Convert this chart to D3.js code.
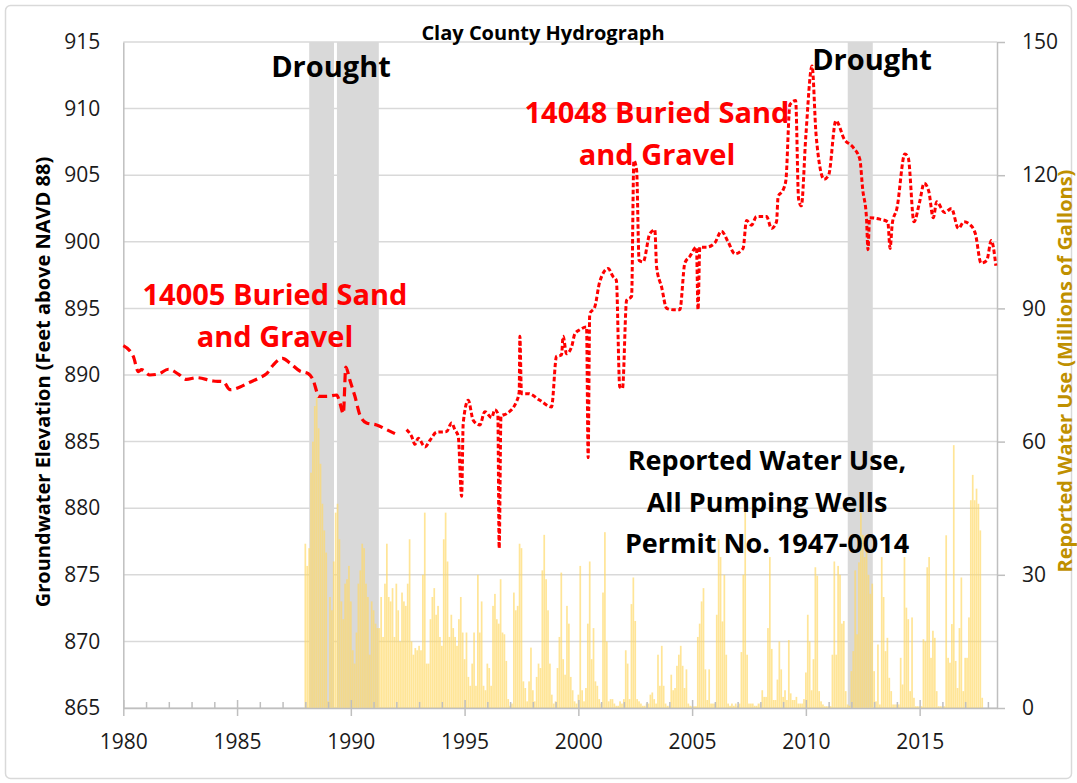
<!DOCTYPE html>
<html>
<head>
<meta charset="utf-8">
<script src="https://cdn.jsdelivr.net/npm/d3@7"></script>
<style>
  body { margin: 0; background: #fff; }
  svg text { font-family: "Open Sans", "Liberation Sans", sans-serif; }
</style>
</head>
<body>
<div id="chart"></div>
<script>
// Well 14005 (Buried Sand and Gravel), decimal year / feet above NAVD 88
const well14005Years = [1980.0, 1980.44, 1980.66, 1980.8, 1981.17, 1981.54, 1981.98, 1982.42, 1982.78, 1983.22,
  1983.95, 1984.39, 1984.69, 1985.13, 1985.49, 1986.0, 1986.3, 1986.59, 1987.0, 1987.32, 1987.76, 1988.13,
  1988.35, 1988.5, 1988.57, 1988.94, 1989.38, 1989.52, 1989.67, 1989.78, 1989.96, 1990.18, 1990.4, 1990.69,
  1991.13, 1991.57, 1991.94];
const well14005Levels = [892.2, 891.4, 890.25, 890.4, 890.0, 890.07, 890.43, 890.07, 889.67, 889.8,
  889.55, 889.5, 888.9, 889.1, 889.4, 889.8, 890.1, 890.75, 891.25, 890.9, 890.3, 890.1,
  889.6, 888.75, 888.4, 888.4, 888.5, 887.9, 887.1, 890.6, 889.6, 888.4, 887.0, 886.4,
  886.25, 885.9, 885.6];

// Well 14048 (Buried Sand and Gravel)
const well14048Years = [1992.45, 1992.67, 1992.82, 1992.96, 1993.26, 1993.48, 1993.77, 1994.21, 1994.43, 1994.57,
  1994.72, 1994.87, 1994.94, 1995.16, 1995.38, 1995.67, 1995.89, 1996.19, 1996.33, 1996.46,
  1996.52, 1996.6, 1996.85, 1997.28, 1997.4, 1997.43, 1997.5, 1997.8, 1998.31, 1998.82,
  1999.04, 1999.26, 1999.33, 1999.48, 1999.7, 1999.85, 2000.07, 2000.36, 2000.43, 2000.5,
  2000.72, 2000.94, 2001.31, 2001.52, 2001.67, 2001.82, 2001.94, 2002.12, 2002.34, 2002.44,
  2002.56, 2002.67, 2002.85, 2003.14, 2003.36, 2003.44, 2003.66, 2003.88, 2004.17, 2004.46,
  2004.68, 2004.9, 2005.19, 2005.26, 2005.34, 2005.63, 2005.99, 2006.29, 2006.58, 2006.88,
  2007.24, 2007.39, 2007.61, 2007.83, 2008.27, 2008.49, 2008.71, 2008.78, 2009.0, 2009.12,
  2009.3, 2009.55, 2009.68, 2009.8, 2010.0, 2010.27, 2010.45, 2010.8, 2011.0, 2011.32,
  2011.69, 2012.07, 2012.37, 2012.5, 2012.66, 2012.73, 2012.8, 2013.25, 2013.6, 2013.7,
  2013.8, 2014.0, 2014.35, 2014.5, 2014.75, 2015.0, 2015.2, 2015.4, 2015.6, 2015.75,
  2016.1, 2016.4, 2016.7, 2016.95, 2017.2, 2017.45, 2017.7, 2017.95, 2018.15, 2018.35];
const well14048Levels = [885.9, 885.4, 884.8, 885.25, 884.6, 885.1, 885.7, 885.75, 886.4, 885.9,
  885.4, 880.9, 886.4, 888.1, 886.6, 886.25, 887.25, 886.8, 887.4, 887.1,
  877.0, 886.9, 887.1, 888.0, 888.75, 892.9, 888.6, 888.6, 888.1, 887.6,
  891.4, 891.5, 892.9, 891.6, 892.1, 893.1, 893.4, 893.6, 883.8, 894.6,
  895.1, 897.0, 898.0, 897.4, 897.1, 889.1, 889.0, 895.6, 895.9, 906.1,
  905.4, 898.6, 898.5, 900.6, 900.9, 898.1, 896.6, 895.0, 894.9, 894.9,
  898.4, 898.9, 899.6, 894.9, 899.6, 899.6, 899.9, 900.8, 900.0, 899.1,
  899.5, 901.6, 901.25, 901.9, 901.9, 901.0, 901.5, 903.4, 903.9, 904.6,
  910.3, 910.6, 903.2, 902.7, 908.0, 913.2, 908.0, 904.7, 905.0, 909.1,
  907.7, 907.1, 906.2, 903.9, 901.9, 899.4, 901.8, 901.7, 901.5, 899.5,
  901.4, 902.5, 906.6, 906.3, 901.5, 903.0, 904.4, 903.8, 901.8, 903.0,
  902.2, 902.5, 901.0, 901.5, 901.3, 900.6, 898.4, 898.6, 900.1, 898.2];

// Reported water use, monthly from January 1988 (millions of gallons)
const useStartYear = 1988;
const waterUse = [
  37, 32, 36, 53, 60, 68, 70, 63, 55, 46, 40, 35, 1.5, 25, 22, 33, 44, 46, 38, 24,
  20, 28, 29, 32, 24, 13, 10, 17, 28, 31, 37, 36, 28, 25, 12, 24, 22, 19, 18, 18,
  25, 16, 28, 37, 25, 24, 27, 16, 28, 22, 15, 26, 24, 23, 28, 38, 15, 12, 13.5, 13,
  14, 13, 30, 44, 10, 10, 20, 25, 27, 21, 23, 16, 14, 38, 44, 33, 16, 21, 18, 16,
  14, 20, 25, 17, 11, 17, 7,
  5, 10, 17, 5, 30, 17, 24, 5, 4, 10, 9, 5, 23, 25.7, 20, 19, 29, 17, 16.6, 10.6,
  2, 0.5, 1, 26, 22, 23, 37, 36, 6, 4.5, 1.5, 6, 13.6, 4, 1.5, 7, 10, 9, 31, 39,
  29, 22, 10, 3, 1, 1.5, 9, 16, 30.5, 11, 7.5, 23, 19, 7, 4, 1.5, 1, 3, 32, 4,
  1.5, 4.5, 19, 33, 11, 18, 6, 5, 2, 1, 26, 39.6, 15, 1.5, 2, 2, 1, 0.5, 0.5, 1.5,
  1, 2, 13, 10, 2, 23.4, 29.4, 19.6, 2, 1.5, 1, 0.5, 0.5, 1, 1,
  3, 3.5, 2, 1, 12, 5, 14, 5, 1, 0.5, 0.5, 7.5, 4, 4.5, 9.5, 12, 14, 9.5, 4.5, 8.7,
  1, 0.5, 0.4, 0.4, 0.4, 16, 19, 24, 27, 8.7, 1.8, 8.7, 1, 1, 1, 21, 38, 34, 19.5, 30,
  12, 1, 0.5, 1, 0.5, 1, 0.5, 1, 12.6, 30, 47, 12, 1, 1, 1, 0.5, 0.5, 1, 1, 4,
  2.5, 2.5, 18, 34, 13.3, 1.8, 1.8, 6.4, 15, 8.7, 2.5, 4, 1.8, 15.3, 3.3, 1.8, 1.8, 2.5, 1,
  1, 1, 2, 8, 21, 15, 4, 11, 31.7, 29.8, 3.8, 1.5, 0.8, 0.4, 0.4, 0.4, 0.4, 12, 33, 12,
  32, 30, 19, 19.6, 3.8, 0.8, 0.5, 8.3, 12.8, 31, 16.6, 32.8, 44, 39, 34, 39, 30, 25.7, 28, 8.3,
  1.5, 14.3, 0.8, 34, 25, 12.8, 15.8, 6.8, 3.8, 0.8, 0.8, 0.8, 0.8, 11.3, 5.3, 34, 22.6, 20, 3.8, 20.4,
  2.3, 0.4, 0.4, 0.4, 0.4, 15.5, 15, 31.7, 34, 11.3, 17.4, 15.8, 3.8, 0.4, 0.4, 0.4, 0.4, 38.9, 11.3, 10.2,
  18.9, 59.2, 10.6, 4.5, 18, 29.4, 3.8, 11.3, 11.3, 20.4, 46.8, 52.5, 46.8, 49.4, 46, 40, 2.3
];

// Drought periods (decimal years)
const droughtStart = [1988.17, 1989.39, 2011.84];
const droughtEnd = [1989.26, 1991.23, 2012.94];

const elevTicks = [865, 870, 875, 880, 885, 890, 895, 900, 905, 910, 915];
const useTicks = [0, 30, 60, 90, 120, 150];
const yearTicks = [1980, 1985, 1990, 1995, 2000, 2005, 2010, 2015];

const width = 1077, height = 783;
const plot = { left: 123.3, right: 997, top: 42, bottom: 708 };

const svg = d3.select("#chart")
  .append("svg")
  .attr("width", width)
  .attr("height", height);

svg.append("rect")
  .attr("x", 5.5).attr("y", 5.5)
  .attr("width", 1066).attr("height", 773)
  .attr("rx", 5)
  .attr("fill", "#fff")
  .attr("stroke", "#d9d9d9")
  .attr("stroke-width", 1.5);

const x = d3.scaleLinear().domain([1980, 2018.4]).range([plot.left, plot.right]);
const yElev = d3.scaleLinear().domain([865, 915]).range([plot.bottom, plot.top]);
const yUse = d3.scaleLinear().domain([0, 150]).range([plot.bottom, plot.top]);

// gridlines
svg.append("g")
  .selectAll("line")
  .data(elevTicks)
  .enter()
  .append("line")
  .attr("x1", plot.left)
  .attr("x2", plot.right)
  .attr("y1", d => yElev(d))
  .attr("y2", d => yElev(d))
  .attr("stroke", "#d9d9d9")
  .attr("stroke-width", 1.5);

// drought bands
svg.append("g")
  .selectAll("rect")
  .data(droughtStart)
  .enter()
  .append("rect")
  .attr("x", d => x(d))
  .attr("y", plot.top)
  .attr("width", (d, i) => x(droughtEnd[i]) - x(d))
  .attr("height", plot.bottom - plot.top)
  .attr("fill", "#d9d9d9");

// water use bars
const monthW = x(useStartYear + 1 / 12) - x(useStartYear);
svg.append("g")
  .selectAll("rect")
  .data(waterUse)
  .enter()
  .append("rect")
  .attr("x", (d, i) => x(useStartYear + i / 12) - monthW * 0.45)
  .attr("y", d => yUse(d))
  .attr("width", monthW * 0.9)
  .attr("height", d => yUse(0) - yUse(d))
  .attr("fill", "#ffd966")
  .attr("fill-opacity", 0.68);

// axes
const fontColor = "#1a1a1a";

const minorYears = d3.range(1981, 2019).filter(d => d % 5 !== 0);
svg.append("g")
  .attr("transform", `translate(0,${plot.bottom})`)
  .call(d3.axisBottom(x).tickValues(minorYears).tickSize(-6).tickFormat(""))
  .call(g => g.select(".domain").remove())
  .selectAll("line").attr("stroke", "#bfbfbf").attr("stroke-width", 1.5);

const xAxis = svg.append("g")
  .attr("transform", `translate(0,${plot.bottom})`)
  .call(d3.axisBottom(x).tickValues(yearTicks).tickSize(8).tickPadding(18).tickFormat(d3.format("d")).tickSizeOuter(0));
xAxis.select(".domain").attr("stroke", "#bfbfbf").attr("stroke-width", 1.5);
xAxis.selectAll(".tick line").attr("y1", -8).attr("stroke", "#bfbfbf").attr("stroke-width", 1.5);
xAxis.selectAll("text").attr("font-size", 21).attr("fill", fontColor);

const yAxisL = svg.append("g")
  .attr("transform", `translate(${plot.left},0)`)
  .call(d3.axisLeft(yElev).tickValues(elevTicks).tickSize(0).tickPadding(23));
yAxisL.select(".domain").attr("stroke", "#bfbfbf").attr("stroke-width", 1.5);
yAxisL.selectAll("text").attr("font-size", 21).attr("fill", fontColor);

const yAxisR = svg.append("g")
  .attr("transform", `translate(${plot.right},0)`)
  .call(d3.axisRight(yUse).tickValues(useTicks).tickSize(8).tickPadding(17).tickSizeOuter(0));
yAxisR.select(".domain").attr("stroke", "#bfbfbf").attr("stroke-width", 1.5);
yAxisR.selectAll(".tick line").attr("stroke", "#bfbfbf").attr("stroke-width", 1.5);
yAxisR.selectAll("text").attr("font-size", 21).attr("fill", fontColor);

// hydrograph lines
const line = d3.line()
  .x(d => x(d[0]))
  .y(d => yElev(d[1]))
  .curve(d3.curveMonotoneX);

svg.append("path")
  .attr("d", line(d3.zip(well14005Years, well14005Levels)))
  .attr("fill", "none")
  .attr("stroke", "#ff0000")
  .attr("stroke-width", 3.2)
  .attr("stroke-dasharray", "9,5");

svg.append("path")
  .attr("d", line(d3.zip(well14048Years, well14048Levels)))
  .attr("fill", "none")
  .attr("stroke", "#ff0000")
  .attr("stroke-width", 3)
  .attr("stroke-dasharray", "4.5,2.5");

// labels
function addText(tx, ty, str, size, color, anchor) {
  return svg.append("text")
    .attr("x", tx)
    .attr("y", ty)
    .attr("text-anchor", anchor || "middle")
    .attr("font-size", size)
    .attr("font-weight", "bold")
    .attr("fill", color)
    .text(str);
}

addText(543, 40, "Clay County Hydrograph", 20, "#000");
addText(331, 77, "Drought", 29, "#000");
addText(872, 70, "Drought", 29, "#000");
addText(275, 305, "14005 Buried Sand", 29, "#ff0000");
addText(275, 347, "and Gravel", 29, "#ff0000");
addText(657, 123, "14048 Buried Sand", 29, "#ff0000");
addText(657, 165, "and Gravel", 29, "#ff0000");
addText(767, 470, "Reported Water Use,", 27, "#000");
addText(767, 512, "All Pumping Wells", 27, "#000");
addText(767, 553, "Permit No. 1947-0014", 27, "#000");

addText(0, 0, "Groundwater Elevation (Feet above NAVD 88)", 20, "#000")
  .attr("transform", "translate(50,382) rotate(-90)");
addText(0, 0, "Reported Water Use (Millions of Gallons)", 20, "#bf9000")
  .attr("transform", "translate(1072,371) rotate(-90)");
</script>
</body>
</html>
